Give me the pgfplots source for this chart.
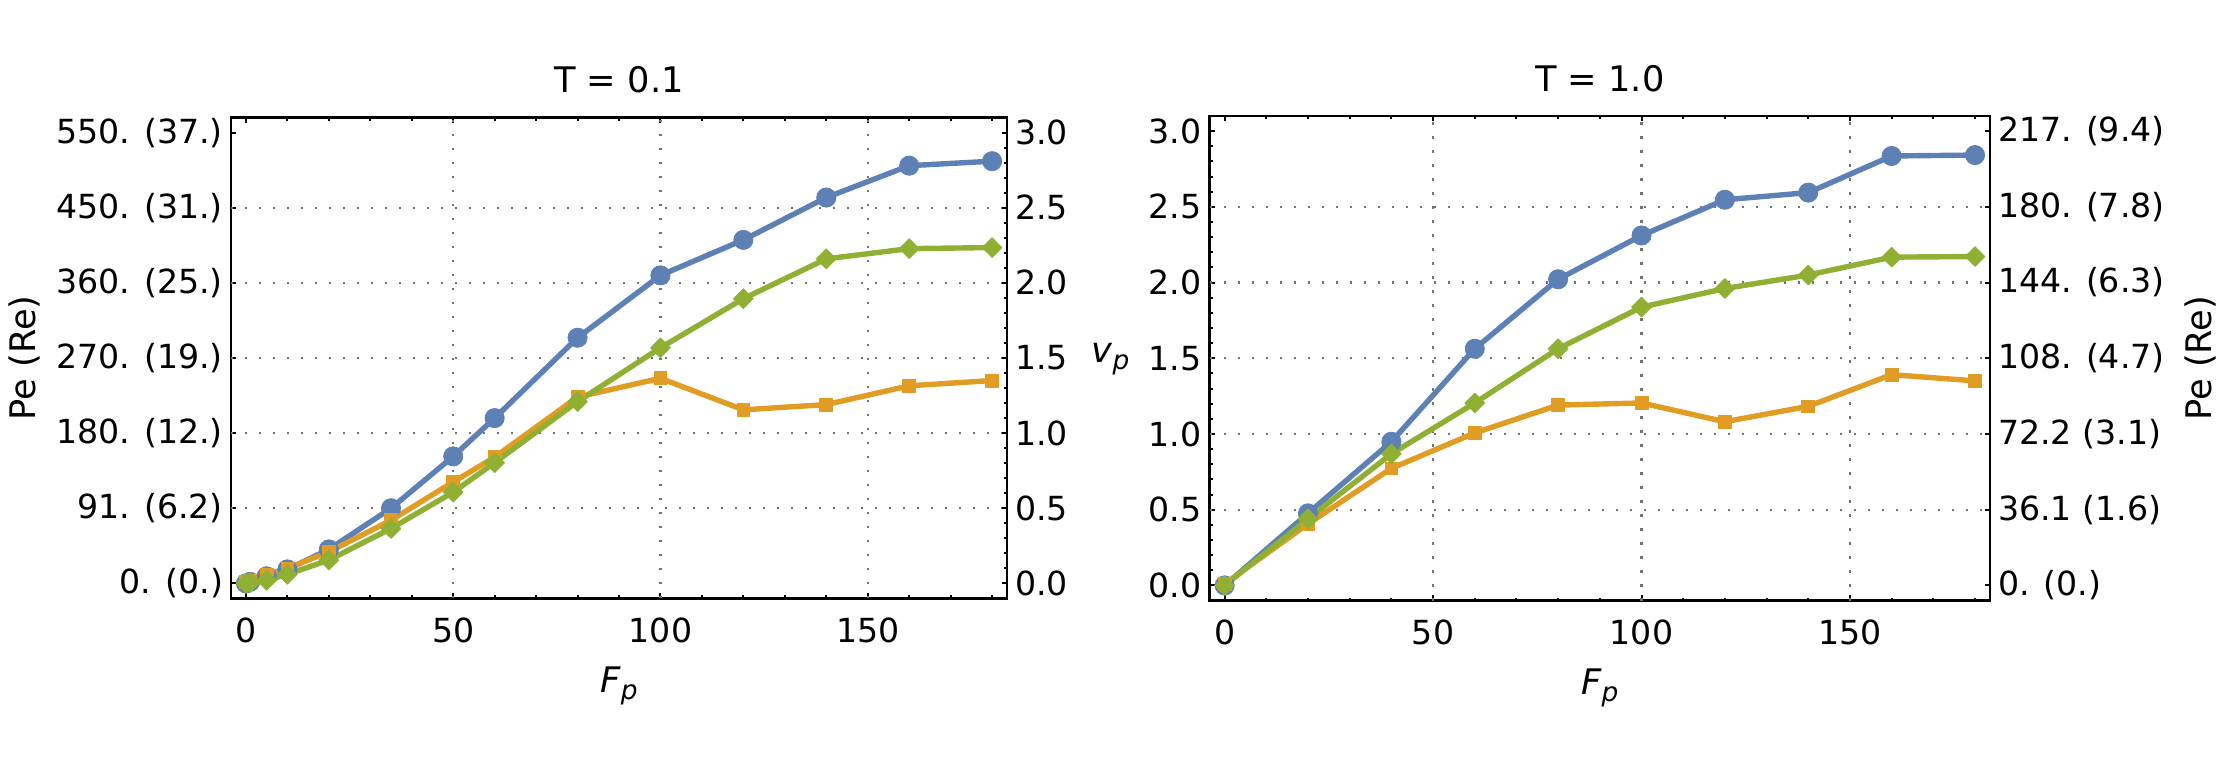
\documentclass[border=0pt]{standalone}
\usepackage{fontspec}
\setmainfont{DejaVu Sans}
\usepackage{pgfplots}
\pgfplotsset{compat=1.18}
\definecolor{c1}{rgb}{0.368417,0.506779,0.709798}
\definecolor{c2}{rgb}{0.880722,0.611041,0.142051}
\definecolor{c3}{rgb}{0.560181,0.691569,0.194885}
\newcommand\tickfont{\fontsize{8.3pt}{10pt}\selectfont}
\newcommand\labfont{\fontsize{8.8pt}{10.5pt}\selectfont}
\newcommand\subfont{\fontsize{6.6pt}{8pt}\selectfont}
\pgfplotsset{
  mma/.style={
    scale only axis,
    xmin=-3.6, xmax=183.6, ymin=-0.1, ymax=3.1,
    axis line style={line width=0.6pt, black},
    every tick/.style={black, line width=0.5pt},
    major tick length=1.3pt, minor tick length=0.75pt,
    tick align=inside,
    ticklabel style={font=\tickfont},
    /pgf/number format/assume math mode=true,
    xticklabel style={anchor=north, inner sep=0pt, yshift=-4.6pt},
    grid style={dash pattern=on 0.6pt off 2.9pt, line width=0.55pt, black!55},
    clip=false,
  },
  mmadata/.style={
    xtick={0,50,100,150},
    minor xtick={10,20,30,40,60,70,80,90,110,120,130,140,160,170,180},
    extra x ticks={50,100,150},
    extra y ticks={0.5,1,1.5,2,2.5},
    extra tick style={grid=major, major tick length=0pt, xticklabel={}, yticklabel={}},
    every axis title/.style={at={(0.5,1)}, anchor=base, yshift=6.2pt, font=\labfont},
    every axis x label/.style={at={(axis description cs:0.5,0)}, anchor=base, yshift=-23.4pt, font=\labfont},
  },
  mmaright/.style={
    axis x line=none, axis y line*=right,
    yticklabel style={anchor=west, inner sep=0pt, xshift=1.8pt},
  },
  s1/.style={c1, line width=1.35pt, line join=round, mark=*, mark size=2.4pt, mark options={line width=0.2pt}},
  s2/.style={c2, line width=1.35pt, line join=round, mark=square*, mark size=1.6pt, mark options={line width=0.2pt}},
  s3/.style={c3, line width=1.35pt, line join=round, mark=square*, mark size=1.75pt, mark options={rotate=45, line width=0.2pt}},
}
\begin{document}
\begin{tikzpicture}[x=1pt,y=1pt]
\useasboundingbox (0,0) rectangle (555.5,192.5);
% ---------------- left panel ----------------
\begin{axis}[mma, mmadata,
  at={(57.75pt,42.9pt)}, anchor=south west, width=194pt, height=120.2pt,
  ytick={0,0.5,1,1.5,2,2.5,3},
  yticklabels={0. (0.),91. (6.2),180. (12.),270. (19.),360. (25.),450. (31.),550. (37.)},
  ytick pos=left,
  yticklabel style={anchor=east, inner sep=0pt, xshift=-1.8pt},
  title={T = 0.1},
  xlabel={\itshape F\raisebox{-0.2em}{\subfont p}},
  ylabel={Pe (Re)},
  every axis y label/.style={at={(axis description cs:-0.266,0.5)}, anchor=center, rotate=90, font=\labfont},
]
\addplot[s1] coordinates {(0,0) (1,0.01) (5,0.047) (10,0.093) (20,0.226) (35,0.5) (50,0.845) (60,1.1) (80,1.635) (100,2.05) (120,2.286) (140,2.568) (160,2.78) (180,2.81)};
\addplot[s2] coordinates {(0,0.01) (1,0.02) (5,0.06) (10,0.1) (20,0.21) (35,0.42) (50,0.675) (60,0.84) (80,1.24) (100,1.365) (120,1.155) (140,1.19) (160,1.315) (180,1.35)};
\addplot[s3] coordinates {(0,0) (1,0.005) (5,0.02) (10,0.06) (20,0.155) (35,0.365) (50,0.607) (60,0.803) (80,1.21) (100,1.568) (120,1.895) (140,2.16) (160,2.228) (180,2.235)};
\end{axis}
\begin{axis}[mma, mmaright,
  at={(57.75pt,42.9pt)}, anchor=south west, width=194pt, height=120.2pt,
  ytick={0,0.5,1,1.5,2,2.5,3},
  yticklabels={0.0,0.5,1.0,1.5,2.0,2.5,3.0},
  minor y tick num=4,
]
\end{axis}
% ---------------- right panel ----------------
\begin{axis}[mma, mmadata,
  at={(302.4pt,42.35pt)}, anchor=south west, width=195.1pt, height=121.15pt,
  ytick={0,0.5,1,1.5,2,2.5,3},
  yticklabels={0.0,0.5,1.0,1.5,2.0,2.5,3.0},
  minor y tick num=4,
  ytick pos=left,
  yticklabel style={anchor=east, inner sep=0pt, xshift=-1.8pt},
  title={T = 1.0},
  xlabel={\itshape F\raisebox{-0.2em}{\subfont p}},
  ylabel={\itshape v\raisebox{-0.2em}{\subfont p}},
  every axis y label/.style={at={(axis description cs:-0.127,0.492)}, anchor=base, font=\labfont},
]
\addplot[s1] coordinates {(0,0) (20,0.476) (40,0.949) (60,1.563) (80,2.022) (100,2.311) (120,2.547) (140,2.594) (160,2.836) (180,2.842)};
\addplot[s2] coordinates {(0,0.01) (20,0.407) (40,0.773) (60,1.007) (80,1.191) (100,1.205) (120,1.081) (140,1.183) (160,1.392) (180,1.351)};
\addplot[s3] coordinates {(0,0) (20,0.44) (40,0.869) (60,1.205) (80,1.563) (100,1.838) (120,1.961) (140,2.05) (160,2.168) (180,2.172)};
\end{axis}
\begin{axis}[mma, mmaright,
  at={(302.4pt,42.35pt)}, anchor=south west, width=195.1pt, height=121.15pt,
  ytick={0,0.5,1,1.5,2,2.5,3},
  yticklabels={0. (0.),36.1 (1.6),72.2 (3.1),108. (4.7),144. (6.3),180. (7.8),217. (9.4)},
  ylabel={Pe (Re)},
  every axis y label/.style={at={(axis description cs:1.27,0.5)}, anchor=center, rotate=90, font=\labfont},
]
\end{axis}
\end{tikzpicture}
\end{document}
